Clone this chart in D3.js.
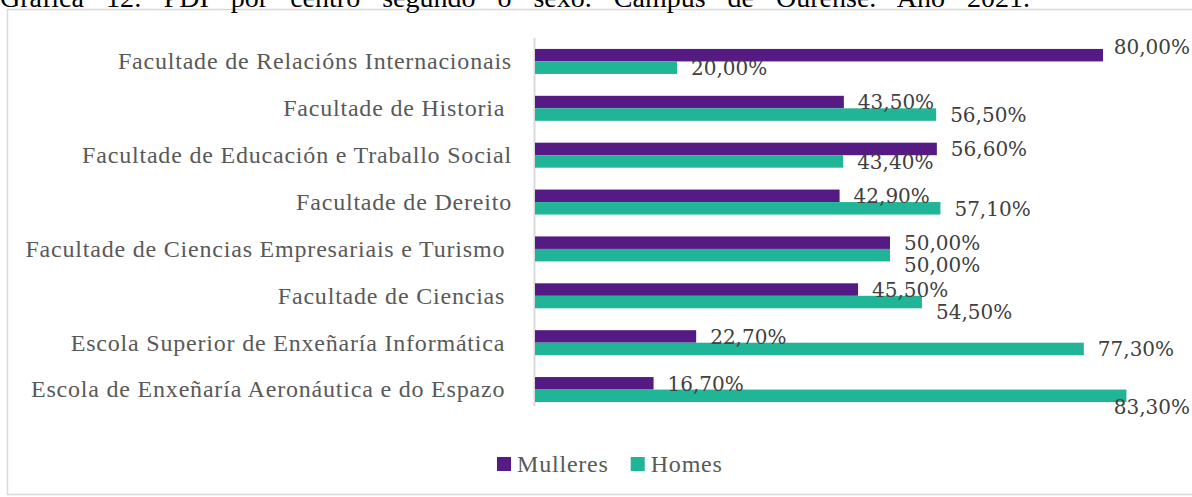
<!DOCTYPE html>
<html>
<head>
<meta charset="utf-8">
<script src="https://cdn.jsdelivr.net/npm/d3@7"></script>
<style>
  body { margin: 0; background: #fff; }
</style>
</head>
<body>
<div id="chart-area"></div>
<script>
// Data
var categories = [
    "Facultade de Relacións Internacionais",
    "Facultade de Historia ",
    "Facultade de Educación e Traballo Social",
    "Facultade de Dereito",
    "Facultade de Ciencias Empresariais e Turismo ",
    "Facultade de Ciencias ",
    "Escola Superior de Enxeñaría Informática ",
    "Escola de Enxeñaría Aeronáutica e do Espazo "
];
var mulleres = [80.0, 43.5, 56.6, 42.9, 50.0, 45.5, 22.7, 16.7];
var homes = [20.0, 56.5, 43.4, 57.1, 50.0, 54.5, 77.3, 83.3];
var seriesNames = ["Mulleres", "Homes"];
var seriesColors = ["#561a84", "#20b596"];
var title = "Gráfica 12: PDI por centro segundo o sexo. Campus de Ourense. Ano 2021.";

var W = 1192, H = 497;
var plot = { left: 535, right: 1174, top: 38, bottom: 413 };
var serif = "'Liberation Serif', 'Times New Roman', serif";
var labelFont = "'DejaVu Serif', serif";

var svg = d3.select("#chart-area")
    .append("svg")
    .attr("width", W)
    .attr("height", H)
    .attr("font-family", serif);

// frame
svg.append("rect")
    .attr("x", 7.5)
    .attr("y", 9.5)
    .attr("width", 1200)
    .attr("height", 485)
    .attr("fill", "none")
    .attr("stroke", "#d9d9d9")
    .attr("stroke-width", 1.5);

// title (cut off at the top, justified)
var t = svg.append("text")
    .attr("x", 0)
    .attr("y", 7)
    .attr("font-family", serif)
    .attr("font-size", "28px")
    .attr("fill", "#000")
    .text(title);
var natural = t.node().getComputedTextLength();
var nSpaces = title.split(" ").length - 1;
t.attr("word-spacing", Math.max(0, (1030 - natural) / nSpaces) + "px");

var x = d3.scaleLinear()
    .domain([0, 90])
    .range([plot.left, plot.right]);

var y0 = d3.scaleBand()
    .domain(categories)
    .range([plot.top, plot.bottom]);

var y1 = d3.scaleBand()
    .domain(seriesNames)
    .range([0, y0.bandwidth()])
    .paddingOuter(0.875);

var rows = categories.map(function (c, i) {
    return { name: c, values: [mulleres[i], homes[i]] };
});

// category labels
svg.append("g")
    .selectAll("text")
    .data(categories)
    .enter()
    .append("text")
    .attr("x", 512)
    .attr("y", function (d) { return y0(d) + y0.bandwidth() / 2; })
    .attr("dy", "0.33em")
    .attr("text-anchor", "end")
    .attr("font-family", serif)
    .attr("font-size", "24px")
    .attr("letter-spacing", "0.8px")
    .attr("fill", "#595959")
    .style("white-space", "pre")
    .text(function (d) { return d; });

// axis line
svg.append("line")
    .attr("x1", x(0) - 0.5)
    .attr("x2", x(0) - 0.5)
    .attr("y1", plot.top)
    .attr("y2", 406)
    .attr("stroke", "#d9d9d9")
    .attr("stroke-width", 2);

// bars
var groups = svg.append("g")
    .selectAll("g")
    .data(rows)
    .enter()
    .append("g")
    .attr("transform", function (d) { return "translate(0," + y0(d.name) + ")"; });

groups.selectAll("rect")
    .data(function (d) {
        return d.values.map(function (v, j) { return { s: seriesNames[j], v: v, j: j }; });
    })
    .enter()
    .append("rect")
    .attr("x", x(0))
    .attr("y", function (d) { return y1(d.s); })
    .attr("width", function (d) { return x(d.v) - x(0); })
    .attr("height", y1.bandwidth())
    .attr("fill", function (d) { return seriesColors[d.j]; });

// data labels, with a simple dodge like Excel's auto placement
var fmt = function (v) { return v.toFixed(2).replace(".", ",") + "%"; };
var labelLayer = svg.append("g");
var rightLimit = 1190;

rows.forEach(function (r) {
    var labs = r.values.map(function (v, j) {
        var el = labelLayer.append("text")
            .attr("font-family", labelFont)
            .attr("font-size", "20px")
            .attr("fill", "#404040")
            .attr("dy", "0.36em")
            .text(fmt(v));
        var w = el.node().getComputedTextLength();
        var lx = x(v) + 14;
        var ly = y0(r.name) + y1(seriesNames[j]) + y1.bandwidth() / 2;
        if (lx + w > rightLimit) {
            lx = rightLimit - w;
            ly += (j === 0 ? -8 : 11);
        }
        return { el: el, x: lx, y: ly, w: w };
    });
    var m = labs[0], h = labs[1];
    if (m.x < h.x + h.w && h.x < m.x + m.w && h.y - m.y < 22) {
        h.y = m.y + 22;
    }
    labs.forEach(function (l) {
        l.el.attr("x", l.x).attr("y", l.y);
    });
});

// legend
var legend = svg.append("g");
var lx = 497;
seriesNames.forEach(function (name, j) {
    legend.append("rect")
        .attr("x", lx)
        .attr("y", 457)
        .attr("width", 14)
        .attr("height", 14)
        .attr("fill", seriesColors[j]);
    var txt = legend.append("text")
        .attr("x", lx + 20)
        .attr("y", 472)
        .attr("font-family", serif)
        .attr("font-size", "24px")
        .attr("letter-spacing", "0.8px")
        .attr("fill", "#595959")
        .text(name);
    lx += 20 + txt.node().getComputedTextLength() + 22;
});
</script>
</body>
</html>
